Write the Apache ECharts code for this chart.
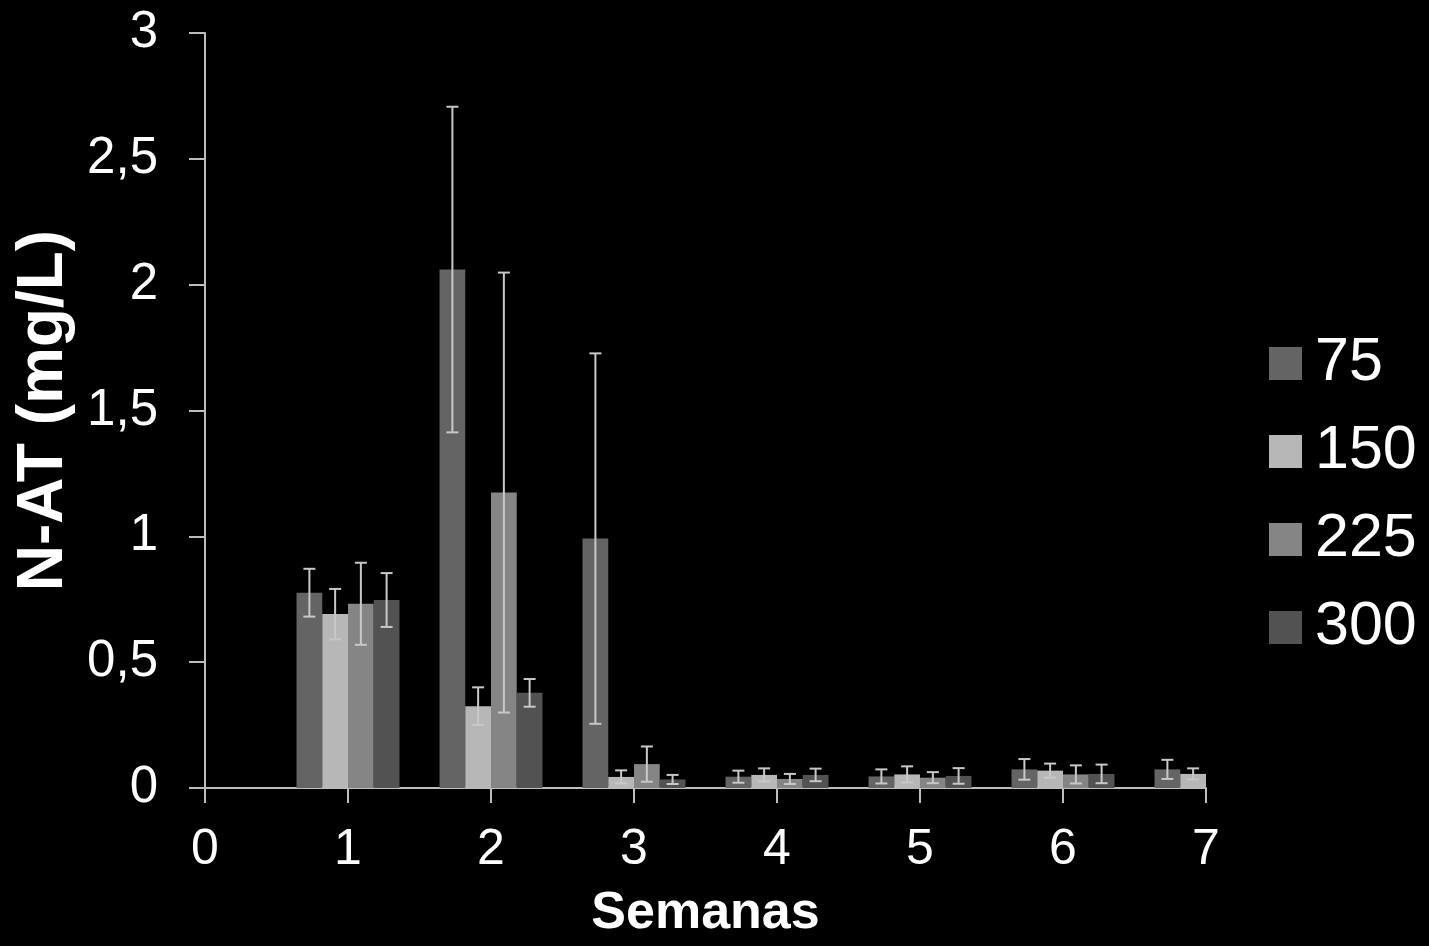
<!DOCTYPE html>
<html>
<head>
<meta charset="utf-8">
<script src="https://cdn.jsdelivr.net/npm/echarts@6/dist/echarts.min.js"></script>
<style>
html,body{margin:0;padding:0;background:#000;}
#chart{width:1429px;height:946px;}
</style>
</head>
<body>
<div id="chart"></div>
<script>
const weeks = [1, 2, 3, 4, 5, 6, 7];
const seriesNames = ['75', '150', '225', '300'];
const s75  = [0.776, 2.060, 0.991, 0.045, 0.046, 0.074, 0.074];
const e75  = [0.095, 0.647, 0.736, 0.024, 0.028, 0.041, 0.038];
const s150 = [0.691, 0.325, 0.044, 0.052, 0.054, 0.069, 0.056];
const e150 = [0.100, 0.075, 0.026, 0.026, 0.032, 0.028, 0.022];
const s225 = [0.732, 1.174, 0.095, 0.036, 0.041, 0.054, 0.055];
const e225 = [0.163, 0.874, 0.070, 0.020, 0.022, 0.036, 0.020];
const s300 = [0.747, 0.378, 0.034, 0.052, 0.048, 0.056, 0.050];
const e300 = [0.107, 0.055, 0.018, 0.025, 0.031, 0.037, 0.020];
const yTicks = [0, 0.5, 1, 1.5, 2, 2.5, 3];
const xTicks = [0, 1, 2, 3, 4, 5, 6, 7];

const colors = ['#646464', '#b7b7b7', '#858585', '#525252'];
const values = [s75, s150, s225, s300];
const errors = [e75, e150, e225, e300];
const W = 0.18;
const FONT = '"Liberation Sans", Arial, sans-serif';

function makeRender(i) {
  return function (params, api) {
    const x = api.value(0), y = api.value(1), e = api.value(2);
    const c = x + (i - 1.5) * W;
    const pTL = api.coord([c - W / 2, y]);
    const pBR = api.coord([c + W / 2, 0]);
    const cx = api.coord([c, 0])[0];
    const top = api.coord([c, y + e])[1];
    const bot = api.coord([c, Math.max(0, y - e)])[1];
    const cap = 6;
    const eb = {stroke: '#c8c8c8', lineWidth: 2};
    return {
      type: 'group',
      children: [
        {type: 'rect', shape: {x: pTL[0], y: pTL[1], width: pBR[0] - pTL[0], height: pBR[1] - pTL[1]},
         style: {fill: colors[i]}},
        {type: 'line', shape: {x1: cx, y1: top, x2: cx, y2: bot}, style: eb},
        {type: 'line', shape: {x1: cx - cap, y1: top, x2: cx + cap, y2: top}, style: eb},
        {type: 'line', shape: {x1: cx - cap, y1: bot, x2: cx + cap, y2: bot}, style: eb}
      ]
    };
  };
}

const series = seriesNames.map((name, i) => ({
  name: name,
  type: 'custom',
  clip: true,
  itemStyle: {color: colors[i]},
  renderItem: makeRender(i),
  encode: {x: 0, y: 1},
  data: weeks.map((w, k) => [w, values[i][k], errors[i][k]])
}));

const chart = echarts.init(document.getElementById('chart'));
chart.setOption({
  backgroundColor: '#000',
  animation: false,
  textStyle: {fontFamily: FONT},
  grid: {left: 205, right: 223, top: 33, bottom: 158, containLabel: false},
  legend: {
    orient: 'vertical',
    left: 1264,
    top: 328,
    icon: 'rect',
    itemWidth: 33,
    itemHeight: 33,
    itemGap: 27,
    textStyle: {color: '#fff', fontSize: 61, lineHeight: 60, fontFamily: FONT, padding: [0, 0, 0, 8]},
    data: seriesNames
  },
  xAxis: {
    type: 'value',
    min: xTicks[0],
    max: xTicks[xTicks.length - 1],
    interval: 1,
    name: 'Semanas',
    nameLocation: 'middle',
    nameGap: 100,
    nameTextStyle: {color: '#fff', fontSize: 52, fontWeight: 'bold', fontFamily: FONT},
    axisLine: {show: true, onZero: false, lineStyle: {color: '#bdbdbd', width: 2}},
    axisTick: {show: true, length: 15, lineStyle: {color: '#bdbdbd', width: 2}},
    axisLabel: {color: '#fff', fontSize: 50, margin: 37, fontFamily: FONT},
    splitLine: {show: false}
  },
  yAxis: {
    type: 'value',
    min: yTicks[0],
    max: yTicks[yTicks.length - 1],
    interval: 0.5,
    name: 'N-AT (mg/L)',
    nameLocation: 'middle',
    nameGap: 120,
    nameTextStyle: {color: '#fff', fontSize: 64, fontWeight: 'bold', fontFamily: FONT},
    axisLine: {show: true, lineStyle: {color: '#bdbdbd', width: 2}},
    axisTick: {show: true, length: 16, lineStyle: {color: '#bdbdbd', width: 2}},
    axisLabel: {color: '#fff', fontSize: 51, margin: 47, fontFamily: FONT,
      formatter: v => String(v).replace('.', ',')},
    splitLine: {show: false}
  },
  series: series
});
</script>
</body>
</html>
